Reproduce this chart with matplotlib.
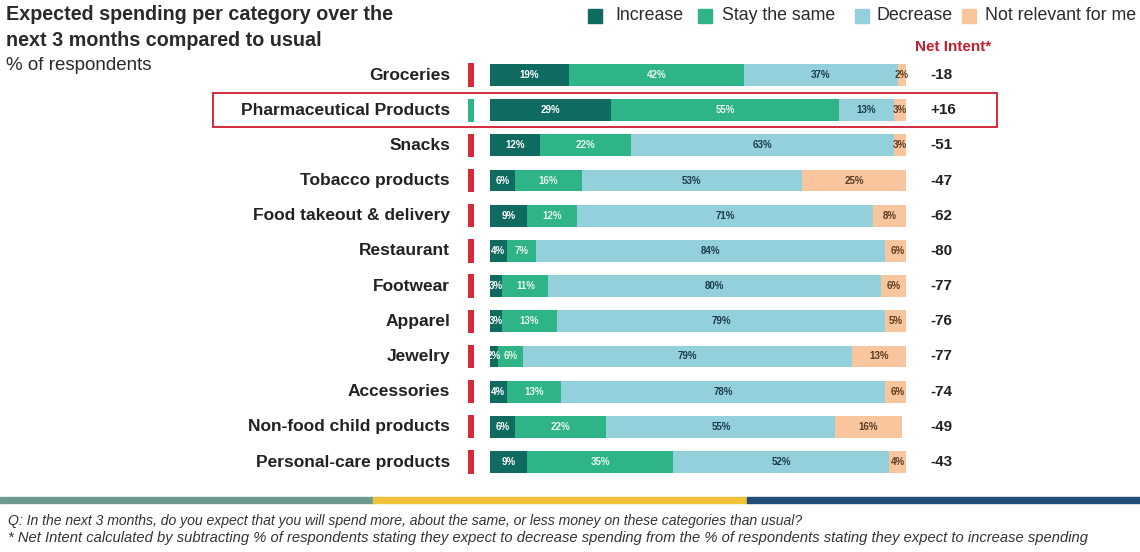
import matplotlib
matplotlib.use("Agg")
import matplotlib.pyplot as plt
from matplotlib.patches import Rectangle
import numpy as np

plt.rcParams["font.family"] = ["Liberation Sans", "DejaVu Sans"]

# data
categories = ["Groceries", "Pharmaceutical Products", "Snacks", "Tobacco products",
              "Food takeout & delivery", "Restaurant", "Footwear", "Apparel",
              "Jewelry", "Accessories", "Non-food child products", "Personal-care products"]
increase = [19, 29, 12, 6, 9, 4, 3, 3, 2, 4, 6, 9]
stay_same = [42, 55, 22, 16, 12, 7, 11, 13, 6, 13, 22, 35]
decrease = [37, 13, 63, 53, 71, 84, 80, 79, 79, 78, 55, 52]
not_relevant = [2, 3, 3, 25, 8, 6, 6, 5, 13, 6, 16, 4]
series_names = ["Increase", "Stay the same", "Decrease", "Not relevant for me"]
series_colors = ["#0f6b60", "#2eb487", "#93d0dc", "#f8c59c"]
text_colors = ["white", "#e8f6ef", "#1d3a4a", "#5a3a20"]
highlight = "Pharmaceutical Products"

net_intent = [i - d for i, d in zip(increase, decrease)]

W, H = 1140, 552
fig = plt.figure(figsize=(W / 100, H / 100), dpi=100)

# axes: x 0..100 maps to px 490..906, rows centred at y=75..462 px
x0, x1 = 490, 906
row_top, row_bot = 75, 462
step = (row_bot - row_top) / (len(categories) - 1)
ax = fig.add_axes([x0 / W, 1 - (row_bot + step / 2) / H, (x1 - x0) / W,
                   (row_bot - row_top + step) / H])
ax.set_xlim(0, 100)
ax.set_ylim(len(categories) - 0.5, -0.5)
ax.axis("off")

y = np.arange(len(categories))
left = np.zeros(len(categories))
for vals, name, col, tcol in zip([increase, stay_same, decrease, not_relevant],
                                 series_names, series_colors, text_colors):
    vals = np.array(vals, dtype=float)
    ax.barh(y, vals, left=left, height=0.62, color=col, edgecolor="none")
    for yi, (l, v) in enumerate(zip(left, vals)):
        ax.text(l + v / 2, yi, f"{int(v)}%", ha="center", va="center",
                fontsize=7, fontweight="bold", color=tcol)
    left += vals

px = 100 / (x1 - x0)  # percent per pixel
for yi, cat in enumerate(categories):
    ax.text(-40 * px, yi, cat, ha="right", va="center", fontsize=12.5,
            fontweight="bold", color="#222222")
    mcol = "#2eb487" if cat == highlight else "#d42a3c"
    ax.barh(yi, 6 * px, left=-22 * px, height=0.66, color=mcol, clip_on=False)
    n = net_intent[yi]
    ax.text(440 * px, yi, f"{n:+d}" if n > 0 else f"{n}", ha="left", va="center",
            fontsize=11, fontweight="bold", color="#222222")

# highlight box around pharmaceutical row
hi = categories.index(highlight)
ax.add_patch(Rectangle((-277 * px, hi - 0.48), (997 - 213) * px, 0.96,
                       fill=False, edgecolor="#d42a3c", linewidth=1.4, clip_on=False))

# titles
fig.text(6 / W, 1 - 15 / H, "Expected spending per category over the", ha="left",
         va="center", fontsize=14.2, fontweight="bold", color="#2a2a2a")
fig.text(6 / W, 1 - 41 / H, "next 3 months compared to usual", ha="left",
         va="center", fontsize=14.2, fontweight="bold", color="#2a2a2a")
fig.text(6 / W, 1 - 65 / H, "% of respondents", ha="left", va="center",
         fontsize=13.5, color="#2a2a2a")

# legend
leg_sq = [588, 698, 855, 962]
leg_tx = [615, 722, 877, 985]
for sx, tx, name, col in zip(leg_sq, leg_tx, series_names, series_colors):
    fig.patches.append(Rectangle((sx / W, 1 - 23 / H), 14 / W, 14 / H, color=col,
                                 transform=fig.transFigure, figure=fig))
    fig.text(tx / W, 1 - 16 / H, name, ha="left", va="center",
             fontsize=12.8, color="#2a2a2a")

fig.text(915 / W, 1 - 47 / H, "Net Intent*", ha="left", va="center",
         fontsize=11, fontweight="bold", color="#c0202f")

# bottom colour band
band = [(0, 373, "#6d9a8e"), (373, 747, "#efc23a"), (747, 1140, "#1f4e79")]
for bx0, bx1, bc in band:
    fig.patches.append(Rectangle((bx0 / W, 1 - 503 / H), (bx1 - bx0) / W, 6 / H,
                                 color=bc, transform=fig.transFigure, figure=fig))

fig.text(8 / W, 1 - 521 / H,
         "Q: In the next 3 months, do you expect that you will spend more, about the same, "
         "or less money on these categories than usual?",
         ha="left", va="center", fontsize=10.1, style="italic", color="#333333")
fig.text(8 / W, 1 - 538 / H,
         "* Net Intent calculated by subtracting % of respondents stating they expect to decrease "
         "spending from the % of respondents stating they expect to increase spending",
         ha="left", va="center", fontsize=10.6, style="italic", color="#333333")

fig.savefig("out.png", dpi=100, facecolor="white")
